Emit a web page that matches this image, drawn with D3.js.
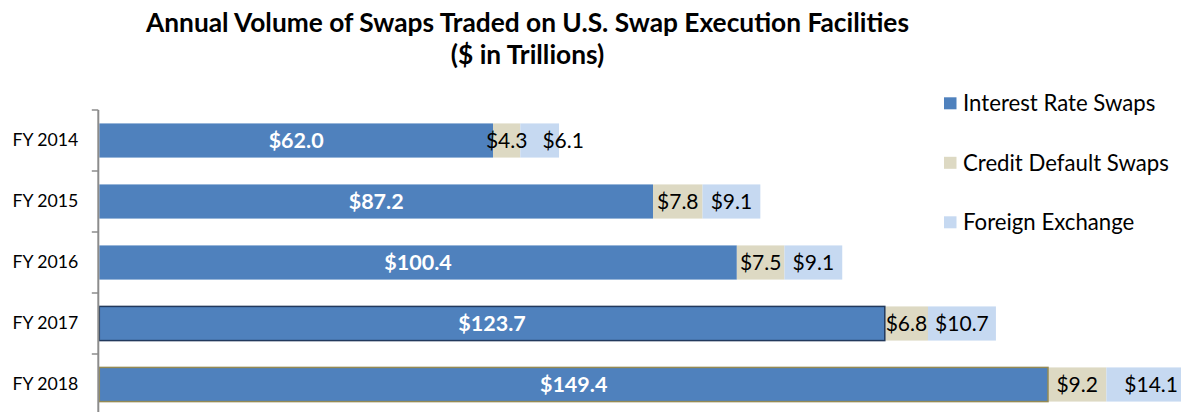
<!DOCTYPE html>
<html>
<head>
<meta charset="utf-8">
<script src="https://cdn.jsdelivr.net/npm/d3@7"></script>
<style>
  html, body { margin: 0; padding: 0; background: #fff; }
  svg { display: block; font-family: Lato, "Open Sans", sans-serif; }
</style>
</head>
<body>
<svg id="chart" width="1181" height="412"></svg>
<script>
const categories = ["FY 2014", "FY 2015", "FY 2016", "FY 2017", "FY 2018"];
const seriesNames = ["Interest Rate Swaps", "Credit Default Swaps", "Foreign Exchange"];
const interestRateSwaps = [62.0, 87.2, 100.4, 123.7, 149.4];
const creditDefaultSwaps = [4.3, 7.8, 7.5, 6.8, 9.2];
const foreignExchange = [6.1, 9.1, 9.1, 10.7, 14.1];
const colors = ["#4F81BD", "#DDD9C3", "#C6D9F1"];
const titleLines = ["Annual Volume of Swaps Traded on U.S. Swap Execution Facilities", "($ in Trillions)"];

const svg = d3.select("#chart");

const seriesValues = [interestRateSwaps, creditDefaultSwaps, foreignExchange];
const rows = categories.map((c, i) => {
  const o = { cat: c };
  seriesNames.forEach((s, k) => o[s] = seriesValues[k][i]);
  return o;
});
const stack = d3.stack().keys(seriesNames)(rows);

const x = d3.scaleLinear().domain([0, 180]).range([99.3, 99.3 + 180 * 6.35]);
const y = d3.scaleBand().domain(categories).range([110, 415]).paddingInner(0.44).paddingOuter(0.22);

// title
svg.append("g").selectAll("text").data(titleLines).join("text")
  .attr("x", 527.5).attr("y", (d, i) => 32 + i * 32)
  .attr("text-anchor", "middle")
  .attr("font-weight", "bold").attr("font-size", 26.3).attr("fill", "#000")
  .text(d => d);

// bars
const gBars = svg.append("g");
stack.forEach((layer, k) => {
  gBars.append("g").selectAll("rect").data(layer).join("rect")
    .attr("x", d => x(d[0]))
    .attr("y", d => y(d.data.cat))
    .attr("width", d => x(d[1]) - x(d[0]))
    .attr("height", y.bandwidth())
    .attr("fill", colors[k]);
});
// selection outlines seen on the reference's last two IRS bars
const outlines = { "FY 2017": "#22395C", "FY 2018": "#948A54" };
gBars.append("g").selectAll("rect").data(stack[0].filter(d => outlines[d.data.cat])).join("rect")
  .attr("x", d => x(d[0]))
  .attr("y", d => y(d.data.cat))
  .attr("width", d => x(d[1]) - x(d[0]))
  .attr("height", y.bandwidth())
  .attr("fill", "none")
  .attr("stroke", d => outlines[d.data.cat])
  .attr("stroke-width", 1.5);

// axis
const axis = d3.axisLeft(y).tickSize(0).tickPadding(20);
const gAxis = svg.append("g").attr("transform", "translate(98.3,0)").call(axis);
gAxis.select(".domain").attr("stroke", "#8C8C8C").attr("stroke-width", 2).attr("d", `M0,${y.range()[0]}V${y.range()[1]}`);
gAxis.selectAll(".tick text").attr("font-family", "Lato, sans-serif").attr("font-size", 17.7).attr("fill", "#000");
const step = y.step();
gAxis.append("g").selectAll("line").data(d3.range(categories.length + 1)).join("line")
  .attr("x1", -6.5).attr("x2", 0)
  .attr("y1", i => y.range()[0] + i * step).attr("y2", i => y.range()[0] + i * step)
  .attr("stroke", "#8C8C8C").attr("stroke-width", 1.5);

// labels
const gLab = svg.append("g");
stack.forEach((layer, k) => {
  const t = gLab.append("g").selectAll("text").data(layer).join("text")
    .attr("x", d => (x(d[0]) + x(d[1])) / 2)
    .attr("y", d => y(d.data.cat) + y.bandwidth() / 2)
    .attr("dy", "0.36em")
    .attr("text-anchor", "middle")
    .attr("font-size", k === 0 ? 21.5 : 21)
    .attr("font-weight", k === 0 ? "bold" : "normal")
    .attr("fill", k === 0 ? "#fff" : "#000")
    .text(d => "$" + (d[1] - d[0]).toFixed(1));
  layer.textSel = t;
});
// nudge overlapping small-segment labels to the right
categories.forEach((c, i) => {
  const a = stack[1].textSel.nodes()[i], b = stack[2].textSel.nodes()[i];
  const ba = a.getBBox(), bb = b.getBBox();
  if (bb.x < ba.x + ba.width) {
    const shift = ba.x + ba.width + 15 - bb.x;
    d3.select(b).attr("x", +d3.select(b).attr("x") + shift);
  }
});

// legend
const lg = svg.append("g").selectAll("g").data(seriesNames).join("g")
  .attr("transform", (d, i) => `translate(944,${103.3 + i * 59.5})`);
lg.append("rect").attr("x", 0).attr("y", -6).attr("width", 12.5).attr("height", 12)
  .attr("fill", (d, i) => colors[i]);
lg.append("text").attr("x", 19).attr("y", 0).attr("dy", "0.36em")
  .attr("font-size", 22.2).attr("fill", "#000").text(d => d);
</script>
</body>
</html>
